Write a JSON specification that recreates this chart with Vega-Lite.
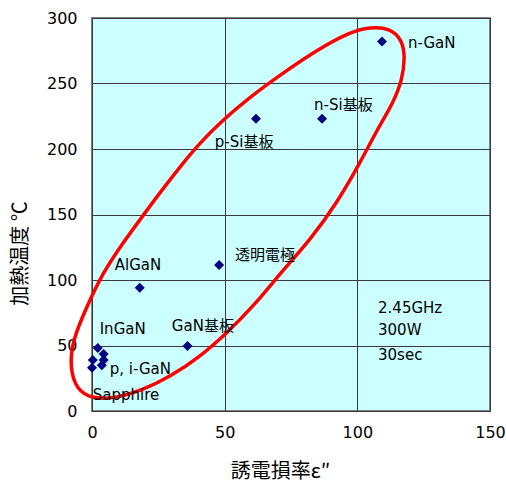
{
  "$schema": "https://vega.github.io/schema/vega-lite/v6.json",
  "width": 398,
  "height": 393,
  "autosize": "none",
  "padding": {"left": 92, "top": 18, "right": 16, "bottom": 71},
  "background": "white",
  "config": {
    "view": {"fill": "#ccffff", "stroke": "#808080", "strokeWidth": 2},
    "axis": {
      "labelFont": "DejaVu Sans",
      "labelFontSize": 16,
      "labelColor": "#000000",
      "labelFlush": false,
      "ticks": false,
      "gridColor": "#3a3a3a",
      "gridOpacity": 1,
      "gridWidth": 1,
      "domainColor": "#3a3a3a",
      "titleFont": "Noto Sans CJK JP",
      "titleFontSize": 20,
      "titleFontWeight": "normal",
      "titleColor": "#000000"
    }
  },
  "encoding": {
    "x": {
      "field": "x", "type": "quantitative",
      "scale": {"domain": [0, 150], "nice": false},
      "axis": {"values": [0, 50, 100, 150], "labelPadding": 13, "title": "誘電損率ε″", "titleX": 188, "titleY": 60, "titleBaseline": "middle"}
    },
    "y": {
      "field": "y", "type": "quantitative",
      "scale": {"domain": [0, 300], "nice": false},
      "axis": {"values": [0, 50, 100, 150, 200, 250, 300], "labelPadding": 15, "title": "加熱温度 ℃", "titleX": -72, "titleY": 235, "titleBaseline": "middle", "titleAlign": "center", "titleAngle": -90}
    }
  },
  "layer": [
    {
      "data": {"values": [
        {"x": 104.8, "y": 293.1, "o": 1},
        {"x": 112.3, "y": 292.4, "o": 2},
        {"x": 116.9, "y": 283.2, "o": 3},
        {"x": 118.0, "y": 270.2, "o": 4},
        {"x": 116.9, "y": 252.7, "o": 5},
        {"x": 113.5, "y": 235.1, "o": 6},
        {"x": 107.4, "y": 214.5, "o": 7},
        {"x": 101.0, "y": 189.3, "o": 8},
        {"x": 92.3, "y": 158.8, "o": 9},
        {"x": 82.2, "y": 130.5, "o": 10},
        {"x": 72.0, "y": 107.6, "o": 11},
        {"x": 60.6, "y": 79.4, "o": 12},
        {"x": 50.8, "y": 59.5, "o": 13},
        {"x": 40.6, "y": 41.2, "o": 14},
        {"x": 29.3, "y": 26.0, "o": 15},
        {"x": 19.1, "y": 16.0, "o": 16},
        {"x": 9.3, "y": 9.9, "o": 17},
        {"x": 0.3, "y": 9.2, "o": 18},
        {"x": -5.8, "y": 16.0, "o": 19},
        {"x": -8.4, "y": 33.6, "o": 20},
        {"x": -7.3, "y": 54.2, "o": 21},
        {"x": -2.0, "y": 79.4, "o": 22},
        {"x": 4.0, "y": 105.3, "o": 23},
        {"x": 11.6, "y": 128.2, "o": 24},
        {"x": 18.0, "y": 145.8, "o": 25},
        {"x": 25.5, "y": 166.4, "o": 26},
        {"x": 33.1, "y": 186.3, "o": 27},
        {"x": 40.6, "y": 204.6, "o": 28},
        {"x": 49.3, "y": 222.1, "o": 29},
        {"x": 59.5, "y": 239.7, "o": 30},
        {"x": 72.0, "y": 258.0, "o": 31},
        {"x": 84.8, "y": 275.6, "o": 32},
        {"x": 97.2, "y": 289.3, "o": 33}
      ]},
      "mark": {"type": "line", "interpolate": "basis-closed", "color": "#ff0000", "strokeWidth": 3.5, "clip": false},
      "encoding": {"order": {"field": "o", "type": "quantitative"}}
    },
    {
      "data": {"values": [
        {"name": "n-GaN", "x": 109.3, "y": 282},
        {"name": "n-Si基板", "x": 86.7, "y": 223},
        {"name": "p-Si基板", "x": 61.8, "y": 223},
        {"name": "透明電極", "x": 47.9, "y": 111.5},
        {"name": "AlGaN", "x": 18, "y": 94},
        {"name": "GaN基板", "x": 36, "y": 49.6},
        {"name": "InGaN", "x": 2.2, "y": 48},
        {"name": "p, i-GaN a", "x": 4.4, "y": 43.5},
        {"name": "p, i-GaN b", "x": 4.4, "y": 39},
        {"name": "p, i-GaN c", "x": 3.7, "y": 35},
        {"name": "Sapphire a", "x": 0.3, "y": 39},
        {"name": "Sapphire b", "x": 0, "y": 33}
      ]},
      "mark": {"type": "point", "shape": "diamond", "filled": true, "color": "#000080", "size": 100, "opacity": 1}
    },
    {
      "data": {"values": [
        {"label": "n-GaN", "x": 119.1, "y": 280.9},
        {"label": "n-Si基板", "x": 83.7, "y": 233.6},
        {"label": "p-Si基板", "x": 46.3, "y": 205.3},
        {"label": "透明電極", "x": 53.9, "y": 119.1},
        {"label": "AlGaN", "x": 8.6, "y": 111.5},
        {"label": "InGaN", "x": 2.9, "y": 62.6},
        {"label": "GaN基板", "x": 30.1, "y": 64.9},
        {"label": "p, i-GaN", "x": 6.7, "y": 32.1},
        {"label": "Sapphire", "x": 0.3, "y": 12.2}
      ]},
      "mark": {"type": "text", "align": "left", "baseline": "middle", "font": "DejaVu Sans, Noto Sans CJK JP", "fontSize": 15, "color": "#000000"},
      "encoding": {"text": {"field": "label"}}
    },
    {
      "data": {"values": [
        {"note": "2.45GHz", "x": 107.8, "y": 78.6},
        {"note": "300W", "x": 107.8, "y": 61.8},
        {"note": "30sec", "x": 107.8, "y": 42.7}
      ]},
      "mark": {"type": "text", "align": "left", "baseline": "middle", "font": "DejaVu Sans", "fontSize": 15, "color": "#000000"},
      "encoding": {"text": {"field": "note"}}
    }
  ]
}
